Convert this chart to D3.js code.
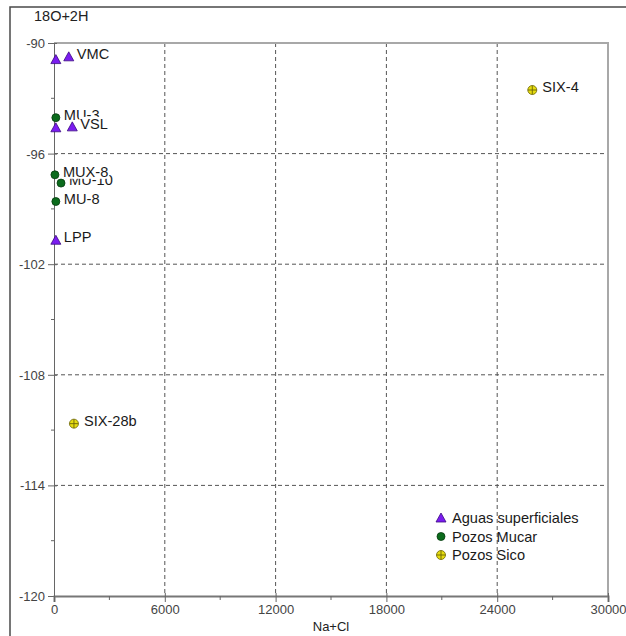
<!DOCTYPE html>
<html>
<head>
<meta charset="utf-8">
<script src="https://cdn.jsdelivr.net/npm/d3@7"></script>
<style>
  html, body { margin: 0; padding: 0; background: #fff; }
  svg { display: block; font-family: "Liberation Sans", Arial, sans-serif; }
</style>
</head>
<body>
<svg id="chart" width="626" height="636"></svg>
<script>
// Samples: Na+Cl (x) against 18O+2H (y)
// Draw order matters: later labels sit on top of earlier ones.
const sampleNames = ["", "VMC", "MU-3", "", "VSL", "MU-10", "MUX-8", "MU-8", "LPP", "SIX-4", "SIX-28b"];
const sampleGroup = ["Aguas", "Aguas", "Mucar", "Aguas", "Aguas", "Mucar", "Mucar", "Mucar", "Aguas", "Sico", "Sico"];
const naCl        = [100, 800, 100, 100, 990, 380, 50, 100, 100, 25900, 1080];
const o18h2       = [-90.9, -90.75, -94.05, -94.6, -94.55, -97.6, -97.15, -98.6, -100.7, -92.55, -110.65];

const groupKeys   = ["Aguas", "Mucar", "Sico"];
const groupLabels = ["Aguas superficiales", "Pozos Mucar", "Pozos Sico"];

const xTicks = [0, 6000, 12000, 18000, 24000, 30000];
const xMinor = [3000, 9000, 15000, 21000, 27000];
const yTicks = [-90, -96, -102, -108, -114, -120];
const yMinor = [-93, -99, -105, -111, -117];

const svg = d3.select("#chart");

const pL = 54, pR = 608, pT = 43, pB = 596;
const x = d3.scaleLinear().domain([0, 30000]).range([pL, pR]);
const y = d3.scaleLinear().domain([-120, -90]).range([pB, pT]);
const plain = d => String(d);   // ASCII hyphen for negatives

// outer frame
svg.append("path")
  .attr("d", `M10,636 L10,7 L626,7`)
  .attr("fill", "none").attr("stroke", "#4a4a4a").attr("stroke-width", 1.5);

// dashed grid
const grid = svg.append("g").attr("stroke", "#555").attr("stroke-dasharray", "4,3").attr("stroke-width", 1);
grid.selectAll("line.v").data(xTicks.slice(1, -1)).join("line").attr("class", "v")
  .attr("x1", d => x(d)).attr("x2", d => x(d)).attr("y1", pT).attr("y2", pB);
grid.selectAll("line.h").data(yTicks.slice(1, -1)).join("line").attr("class", "h")
  .attr("y1", d => y(d)).attr("y2", d => y(d)).attr("x1", pL).attr("x2", pR);

// plot border (top and right)
svg.append("path")
  .attr("d", `M${pL},${pT} L${pR},${pT} L${pR},${pB}`)
  .attr("fill", "none").attr("stroke", "#a8a8a8").attr("stroke-width", 2);

// axes
const yAxis = d3.axisLeft(y).tickValues(yTicks).tickSize(6).tickPadding(3).tickFormat(plain);
const gy = svg.append("g").attr("transform", `translate(${pL},0)`).call(yAxis);
gy.select(".domain").attr("stroke", "#666");
gy.selectAll(".tick line").attr("stroke", "#666").attr("x2", -6).attr("x1", 3);
gy.selectAll(".tick text").attr("fill", "#444").attr("font-size", 13)
  .attr("font-family", "Liberation Sans, Arial, sans-serif").attr("dy", "0.35em").attr("x", -9);
gy.selectAll("line.minor").data(yMinor).join("line").attr("class", "minor")
  .attr("x1", -3).attr("x2", 0).attr("y1", d => y(d)).attr("y2", d => y(d)).attr("stroke", "#666");

const xAxis = d3.axisBottom(x).tickValues(xTicks).tickSize(6).tickPadding(3).tickFormat(plain);
const gx = svg.append("g").attr("transform", `translate(0,${pB})`).call(xAxis);
gx.select(".domain").attr("stroke", "#777").attr("stroke-width", 2);
gx.selectAll(".tick line").attr("stroke", "#666").attr("y1", -3);
gx.selectAll(".tick text").attr("fill", "#444").attr("font-size", 13)
  .attr("font-family", "Liberation Sans, Arial, sans-serif");
gx.selectAll("line.minor").data(xMinor).join("line").attr("class", "minor")
  .attr("y1", 0).attr("y2", 4).attr("x1", d => x(d)).attr("x2", d => x(d)).attr("stroke", "#666");

// axis titles
svg.append("text").attr("x", 34).attr("y", 21).attr("font-size", 14.5).attr("fill", "#222").text("18O+2H");
svg.append("text").attr("x", (pL + pR) / 2).attr("y", 631).attr("text-anchor", "middle")
  .attr("font-size", 13).attr("fill", "#222").text("Na+Cl");

// markers
const triPath = "M0,-5 L5,4 L-5,4 Z";
function drawMarker(sel, g) {
  if (g === "Aguas") {
    sel.append("path").attr("d", triPath).attr("fill", "#7b1cf0").attr("stroke", "#3a0a80").attr("stroke-width", 0.8);
  } else if (g === "Mucar") {
    sel.append("circle").attr("r", 4).attr("fill", "#0b6b1c").attr("stroke", "#053a0e").attr("stroke-width", 0.8);
  } else {
    sel.append("circle").attr("r", 4.5).attr("fill", "#e6dc10").attr("stroke", "#6b6408").attr("stroke-width", 0.8);
    sel.append("path").attr("d", "M-4.5,0 H4.5 M0,-4.5 V4.5").attr("stroke", "#6b6408").attr("stroke-width", 0.9);
  }
}

const samples = sampleNames.map((n, i) => ({ name: n, group: sampleGroup[i], x: naCl[i], y: o18h2[i] }));

// labels with white boxes
const labels = svg.append("g").attr("font-size", 14.6).attr("fill", "#1a1a1a");
samples.filter(d => d.name).forEach(d => {
  const dx = d.group === "Sico" ? 10 : 8;
  const g = labels.append("g").attr("transform", `translate(${x(d.x) + dx},${y(d.y) + 2})`);
  const rect = g.append("rect").attr("fill", "#fff");
  const t = g.append("text").text(d.name);
  const bb = t.node().getBBox();
  rect.attr("x", bb.x - 1).attr("y", bb.y + 1).attr("width", bb.width + 2).attr("height", bb.height - 2);
});

const marks = svg.append("g");
samples.forEach(d => {
  const g = marks.append("g").attr("transform", `translate(${x(d.x)},${y(d.y)})`);
  drawMarker(g, d.group);
});

// legend
const legend = svg.append("g").attr("transform", "translate(441,518)");
groupKeys.forEach((k, i) => {
  const row = legend.append("g").attr("transform", `translate(0,${i * 18.5})`);
  drawMarker(row, k);
  row.append("text").attr("x", 11).attr("y", 5).attr("font-size", 14.6).attr("fill", "#1a1a1a").text(groupLabels[i]);
});
</script>
</body>
</html>
